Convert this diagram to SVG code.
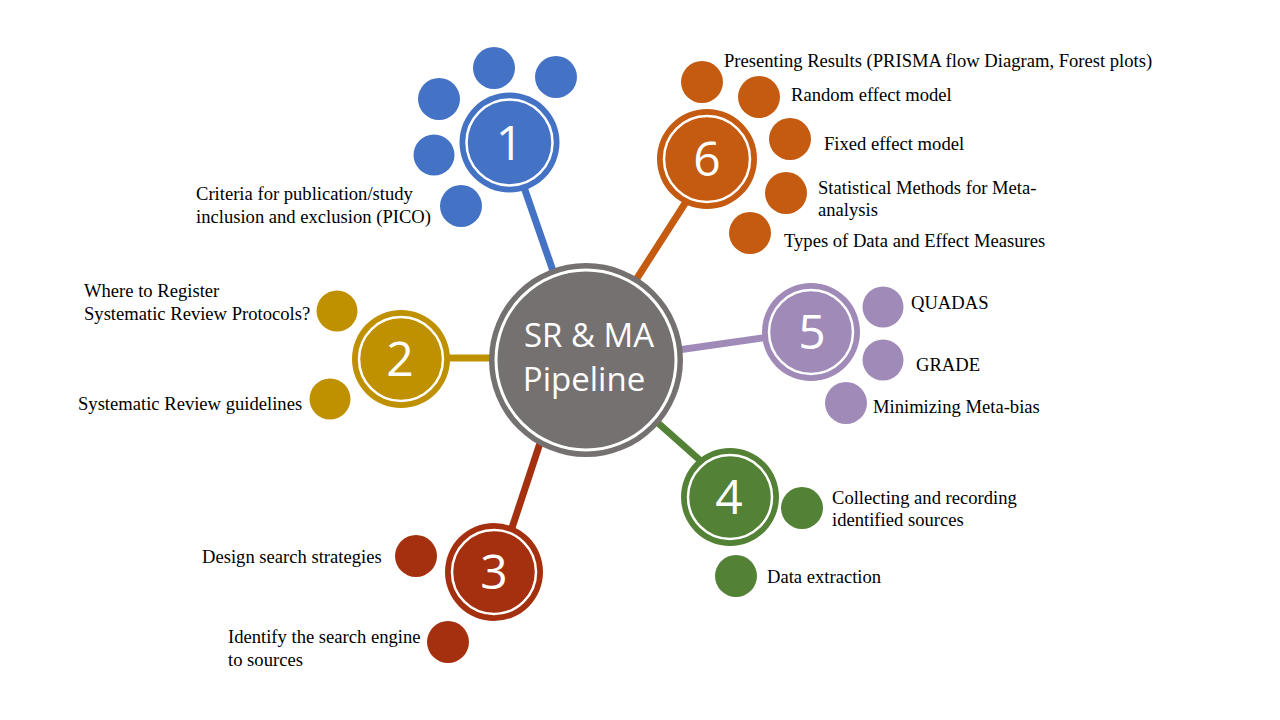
<svg xmlns="http://www.w3.org/2000/svg" width="1280" height="720" viewBox="0 0 1280 720">
<style>
.lbl{font-family:"Liberation Serif","Times New Roman",serif;font-size:18.6px;fill:#000}
.num{font-family:"Open Sans","Liberation Sans",sans-serif;font-size:48px;fill:#fff;text-anchor:middle}
.ctr{font-family:"Open Sans","Liberation Sans",sans-serif;font-size:33px;fill:#fff;text-anchor:middle}
.ring{fill:none;stroke:#fff;stroke-width:2.5}
.c1{fill:#4472C4}.s1{stroke:#4472C4}
.c2{fill:#BF9000}.s2{stroke:#BF9000}
.c3{fill:#A5300F}.s3{stroke:#A5300F}
.c4{fill:#538135}.s4{stroke:#538135}
.c5{fill:#A08AB8}.s5{stroke:#A08AB8}
.c6{fill:#C55A11}.s6{stroke:#C55A11}
.conn line{stroke-width:7;stroke-linecap:butt}
</style>
<rect width="1280" height="720" fill="#fff"/>
<g id="connectors" class="conn">
<line class="s1" x1="518" y1="170" x2="561" y2="294"/>
<line class="s2" x1="440" y1="358" x2="510" y2="358"/>
<line class="s3" x1="506" y1="546" x2="545" y2="428"/>
<line class="s4" x1="640" y1="407" x2="720" y2="478"/>
<line class="s5" x1="664" y1="352" x2="790" y2="334"/>
<line class="s6" x1="700" y1="180" x2="625" y2="297"/>
</g>
<g id="center">
<circle cx="586" cy="360" r="97" fill="#767171"/>
<circle cx="586" cy="360" r="90" fill="none" stroke="#fff" stroke-width="3"/>
<text class="ctr" x="589" y="347">SR &amp; MA</text>
<text class="ctr" x="584" y="391">Pipeline</text>
</g>
<g id="node1">
<circle class="c1" cx="509.5" cy="142.5" r="50"/>
<circle class="ring" cx="509.5" cy="142.5" r="43"/>
<text class="num" x="509.5" y="160">1</text>
<circle class="c1" cx="494" cy="68" r="21"/>
<circle class="c1" cx="556" cy="77" r="21"/>
<circle class="c1" cx="439" cy="99" r="21"/>
<circle class="c1" cx="434" cy="155" r="20.5"/>
<circle class="c1" cx="461" cy="206" r="21"/>
<text class="lbl" x="196" y="200">Criteria for publication/study</text>
<text class="lbl" x="196" y="223">inclusion and exclusion (PICO)</text>
</g>
<g id="node2">
<circle class="c2" cx="401" cy="359" r="49"/>
<circle class="ring" cx="401" cy="359" r="42"/>
<text class="num" x="400" y="376">2</text>
<circle class="c2" cx="337" cy="311" r="20.5"/>
<circle class="c2" cx="330" cy="399" r="20.5"/>
<text class="lbl" x="84" y="297">Where to Register</text>
<text class="lbl" x="84" y="320">Systematic Review Protocols?</text>
<text class="lbl" x="78" y="410">Systematic Review guidelines</text>
</g>
<g id="node3">
<circle class="c3" cx="494" cy="572" r="49"/>
<circle class="ring" cx="494" cy="572" r="42"/>
<text class="num" x="494" y="589">3</text>
<circle class="c3" cx="416" cy="556" r="21"/>
<circle class="c3" cx="448" cy="642" r="21"/>
<text class="lbl" x="202" y="563">Design search strategies</text>
<text class="lbl" x="228" y="643">Identify the search engine</text>
<text class="lbl" x="228" y="666">to sources</text>
</g>
<g id="node4">
<circle class="c4" cx="730" cy="497" r="49"/>
<circle class="ring" cx="730" cy="497" r="42"/>
<text class="num" x="729" y="514">4</text>
<circle class="c4" cx="802" cy="508" r="21"/>
<circle class="c4" cx="736" cy="576" r="21"/>
<text class="lbl" x="832" y="504">Collecting and recording</text>
<text class="lbl" x="832" y="526">identified sources</text>
<text class="lbl" x="767" y="583">Data extraction</text>
</g>
<g id="node5">
<circle class="c5" cx="811" cy="332" r="49"/>
<circle class="ring" cx="811" cy="332" r="42"/>
<text class="num" x="812" y="349">5</text>
<circle class="c5" cx="883" cy="307" r="20.5"/>
<circle class="c5" cx="883" cy="360" r="20.5"/>
<circle class="c5" cx="846" cy="403" r="21"/>
<text class="lbl" x="911" y="309">QUADAS</text>
<text class="lbl" x="916" y="371">GRADE</text>
<text class="lbl" x="873" y="413">Minimizing Meta-bias</text>
</g>
<g id="node6">
<circle class="c6" cx="707" cy="159" r="50"/>
<circle class="ring" cx="707" cy="159" r="43"/>
<text class="num" x="707" y="176">6</text>
<circle class="c6" cx="702" cy="82" r="21"/>
<circle class="c6" cx="759" cy="97" r="21"/>
<circle class="c6" cx="790" cy="139" r="21"/>
<circle class="c6" cx="786" cy="193" r="21"/>
<circle class="c6" cx="750" cy="233" r="21"/>
<text class="lbl" x="724" y="67">Presenting Results (PRISMA flow Diagram, Forest plots)</text>
<text class="lbl" x="791" y="101">Random effect model</text>
<text class="lbl" x="824" y="150">Fixed effect model</text>
<text class="lbl" x="818" y="194">Statistical Methods for Meta-</text>
<text class="lbl" x="818" y="216">analysis</text>
<text class="lbl" x="784" y="247">Types of Data and Effect Measures</text>
</g>
</svg>
